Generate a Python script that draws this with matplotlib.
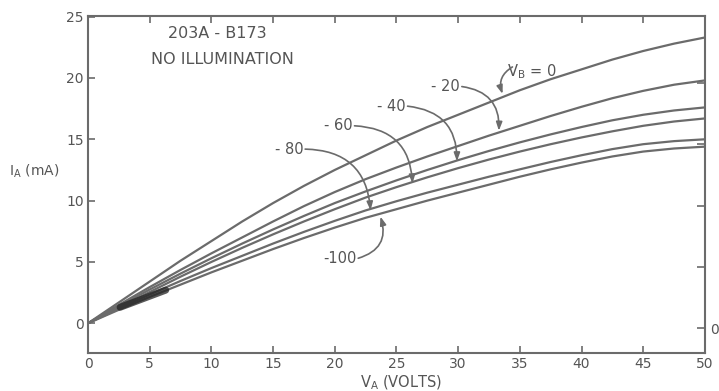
import matplotlib.pyplot as plt

# anode voltage (V) and anode current (mA) for each base voltage
v_a = [0, 2.5, 5, 7.5, 10, 12.5, 15, 17.5, 20, 22.5, 25, 27.5, 30, 32.5, 35, 37.5,
       40, 42.5, 45, 47.5, 50]
i_vb0 = [0, 1.7, 3.4, 5.1, 6.7, 8.3, 9.8, 11.2, 12.5, 13.7, 14.9, 16.0, 17.0, 18.0,
         19.0, 19.9, 20.7, 21.5, 22.2, 22.8, 23.3]
i_vb20 = [0, 1.5, 2.95, 4.35, 5.7, 7.0, 8.3, 9.55, 10.7, 11.75, 12.7, 13.6, 14.45,
          15.3, 16.1, 16.9, 17.65, 18.35, 18.95, 19.45, 19.8]
i_vb40 = [0, 1.4, 2.75, 4.05, 5.3, 6.5, 7.65, 8.75, 9.8, 10.75, 11.65, 12.5, 13.3,
          14.05, 14.75, 15.4, 16.0, 16.55, 17.0, 17.35, 17.6]
i_vb60 = [0, 1.3, 2.55, 3.8, 5.0, 6.15, 7.25, 8.3, 9.3, 10.25, 11.1, 11.9, 12.65,
          13.35, 14.0, 14.6, 15.15, 15.65, 16.1, 16.45, 16.7]
i_vb80 = [0, 1.2, 2.35, 3.45, 4.5, 5.5, 6.5, 7.45, 8.35, 9.2, 9.95, 10.65, 11.3,
          11.95, 12.55, 13.15, 13.7, 14.2, 14.6, 14.85, 15.0]
i_vb100 = [0, 1.1, 2.15, 3.15, 4.15, 5.1, 6.05, 6.95, 7.8, 8.6, 9.3, 10.0, 10.65,
           11.3, 11.95, 12.55, 13.1, 13.6, 14.0, 14.25, 14.4]

gray = "#6b6b6b"
txt = "#555555"

fig = plt.figure(figsize=(7.19, 3.91), dpi=100)
ax = fig.add_axes([0.1224, 0.097, 0.858, 0.862])

for ys in [i_vb0, i_vb20, i_vb40, i_vb60, i_vb80, i_vb100]:
    ax.plot(v_a, ys, color=gray, lw=1.6)

# dark smudge near the origin in the scan
ax.plot([2.6, 6.3], [1.3, 2.7], color="#222222", lw=5, alpha=0.75, solid_capstyle="round")

ax.set_xlim(0, 50)
ax.set_ylim(-2.43, 25.05)
ax.set_xticks(range(0, 51, 5))
ax.set_yticks(range(0, 26, 5))
ax.tick_params(direction="in", length=5, width=1.2, color=gray, labelcolor=txt,
               labelsize=10, top=True, pad=3)
for s in ax.spines.values():
    s.set_color(gray)
    s.set_linewidth(1.5)

ax2 = ax.twinx()
ax2.set_ylim(-2.43 + 0.4, 25.05 + 0.4)
ax2.set_yticks([0, 5, 10, 15, 20])
ax2.set_yticklabels(["0", "", "", "", ""])
ax2.tick_params(direction="in", length=6, width=1.2, color=gray, labelcolor=txt,
                labelsize=10, pad=4)
for s in ax2.spines.values():
    s.set_visible(False)

ax.text(-6.4, 12.4, r"$\mathregular{I_A}$ (mA)", color=txt, fontsize=10,
        ha="left", va="center", clip_on=False)
fig.text(360 / 719, 1 - 383 / 391, r"$\mathregular{V_A}$ (VOLTS)", color=txt,
         fontsize=10.5, ha="left", va="center")
fig.text(217 / 719, 1 - 34 / 391, "203A - B173", color=txt, fontsize=11.5,
         ha="center", va="center")
fig.text(222 / 719, 1 - 60 / 391, "NO ILLUMINATION", color=txt, fontsize=11.5,
         ha="center", va="center")

labels = [r"$\mathregular{V_B}$ = 0", "- 20", "- 40", "- 60", "- 80", "-100"]
label_y = [20.5, 19.3, 17.7, 16.1, 14.2, 5.3]
arrow_from = [(34.4, 20.9), (30.3, 19.3), (25.9, 17.7), (21.6, 16.1), (17.6, 14.2), (21.9, 5.3)]
arrow_to = [(33.6, 18.7), (33.3, 15.7), (29.9, 13.2), (26.3, 11.4), (22.9, 9.2), (23.7, 8.7)]
bends = [0.4, -0.45, -0.45, -0.45, -0.45, 0.5]

for i in range(len(labels)):
    if i == 0:
        ax.text(34.0, label_y[i], labels[i], color=txt, fontsize=10.5, ha="left", va="center")
    else:
        ax.text(arrow_from[i][0] - 0.15, label_y[i], labels[i], color=txt, fontsize=10.5,
                ha="right", va="center")
    ax.annotate("", xy=arrow_to[i], xytext=arrow_from[i],
                arrowprops=dict(arrowstyle="-|>,head_length=0.5,head_width=0.18",
                                connectionstyle="arc3,rad=%s" % bends[i],
                                color=gray, lw=1.2, shrinkA=0, shrinkB=0))

fig.savefig("out.png", dpi=100)
